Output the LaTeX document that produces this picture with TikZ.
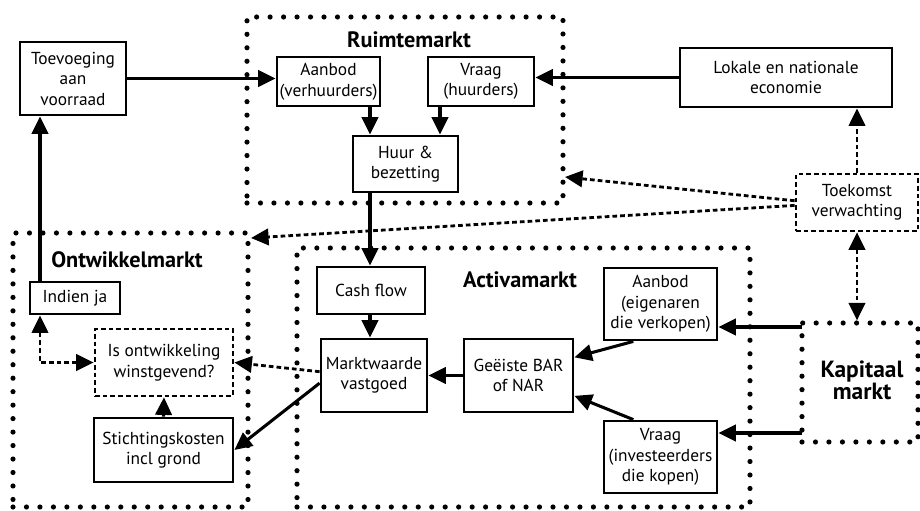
\documentclass[tikz,border=0pt]{standalone}
\usepackage{fontspec}
\setmainfont{PT Sans}
\usetikzlibrary{arrows.meta}

\begin{document}
\begin{tikzpicture}[x=.3mm,y=.3mm,font=\fontsize{14.8}{17.5}\selectfont,
 box/.style={draw,line width=2.4pt,align=center,inner sep=1pt},
 guess/.style={box,line width=2.3pt,dash pattern=on 4pt off 2.6pt},
 market/.style={draw,line width=4.4pt,line cap=round,dash pattern=on 0pt off 11.5pt},
 title/.style={font=\bfseries\fontsize{19}{19}\selectfont,align=center},
 flow/.style={-{Triangle[length=15pt,width=14pt]},line width=2.6pt},
 hint/.style={flow,line width=2.4pt,dash pattern=on 4pt off 2.6pt},
 both/.style={hint,{Triangle[length=15pt,width=14pt]}-{Triangle[length=15pt,width=14pt]}}]
\path[use as bounding box] (0,0) rectangle (920,510);

% the four markets
\node[market,minimum width=94.8mm,minimum height=55.8mm] (ruimte) at (405,400) {};
\node[market,minimum width=70.5mm,minimum height=82.2mm] (ontw) at (130.5,140) {};
\node[market,minimum width=135.9mm,minimum height=77.7mm] (activa) at (523.5,132.5) {};
\node[market,minimum width=34.8mm,minimum height=35.7mm] (kap) at (860,127.5) {};
\node[title] (ruimteT) at (409,470) {Ruimtemarkt};
\node[title] (ontwT) at (127,250) {Ontwikkelmarkt};
\node[title] (activaT) at (520,230) {Activamarkt};
\node[title,font=\bfseries\fontsize{20}{19}\selectfont] (kapT) at (862,130) {Kapitaal\\markt};

% Ruimtemarkt and surroundings
\node[box,minimum width=31.8mm,minimum height=21.9mm] (toev) at (73,431.5) {Toevoeging\\aan\\voorraad};
\node[box,minimum width=30.9mm,minimum height=14.7mm] (aanv) at (328.5,428.5) {Aanbod\\(verhuurders)};
\node[box,minimum width=31.8mm,minimum height=14.7mm] (vrh) at (481,428.5) {Vraag\\(huurders)};
\node[box,minimum width=31.5mm,minimum height=16.8mm] (huur) at (405.5,346) {Huur \&\\bezetting};
\node[box,minimum width=63.6mm,minimum height=17.7mm] (lok) at (786,432.5) {Lokale en nationale\\economie};
\node[guess,minimum width=36.6mm,minimum height=17.1mm] (toek) at (857,307.5) {Toekomst\\verwachting};

% Ontwikkelmarkt
\node[box,minimum width=27mm,minimum height=9.6mm] (indien) at (75,212) {Indien ja};
\node[guess,minimum width=41.4mm,minimum height=20.1mm] (isont) at (164,147.5) {Is ontwikkeling\\winstgevend?};
\node[box,minimum width=41.7mm,minimum height=19.2mm] (sticht) at (163.5,60) {Stichtingskosten\\incl grond};

% Activamarkt
\node[box,minimum width=32.4mm,minimum height=14.1mm] (cash) at (371,219.5) {Cash flow};
\node[box,minimum width=31.8mm,minimum height=21.9mm] (markt) at (374,134.5) {Marktwaarde\\vastgoed};
\node[box,minimum width=32.7mm,minimum height=21.9mm] (bar) at (518.5,134.5) {Geëiste BAR\\of NAR};
\node[box,minimum width=33.9mm,minimum height=21.6mm] (aeig) at (660.5,206) {Aanbod\\(eigenaren\\die verkopen)};
\node[box,minimum width=33.9mm,minimum height=21.6mm] (vinv) at (660.5,53) {Vraag\\(investeerders\\die kopen)};

\coordinate (colA) at (370,0);
\coordinate (colB) at (440,0);
\coordinate (colC) at (40,145);
\coordinate (ruimteIn) at (565,333);
\coordinate (ontwIn) at (251,272);
\coordinate (kapTop) at (802,183);
\coordinate (kapLow) at (802,77);

\draw[flow] (toev.east)--(aanv.west |- toev.east);
\draw[flow] (lok.west)--(lok.west -| vrh.east);
\draw[flow] (aanv.south -| colA)--(huur.north -| colA);
\draw[flow] (vrh.south -| colB)--(huur.north -| colB);
\draw[flow] (huur.south -| colA)--(cash.north -| colA);
\draw[flow] (cash.south -| colA)--(markt.north -| colA);
\draw[flow] (bar.west)--(markt.east);
\draw[flow] (aeig.234)--(bar.18);
\draw[flow] (vinv.126)--(bar.-20);
\draw[flow] (kapTop)--(kapTop -| aeig.east);
\draw[flow] (kapLow)--(kapLow -| vinv.east);
\draw[flow] (markt.188)--(sticht.east);
\draw[flow] (sticht.north)--(isont.south);
\draw[flow] (colC |- indien.north)--(colC |- toev.south);
\draw[hint] (markt.176)--(isont.east);
\draw[both] (isont.west)-|(colC |- indien.south);
\draw[hint] (toek.north)--(toek.north |- lok.south);
\draw[both] (toek.south)--(toek.south |- kap.north);
\draw[hint] ([yshift=1.5pt]toek.west)--(ruimteIn);
\draw[hint] ([yshift=-2.5pt]toek.west)--(ontwIn);
\end{tikzpicture}
\end{document}
